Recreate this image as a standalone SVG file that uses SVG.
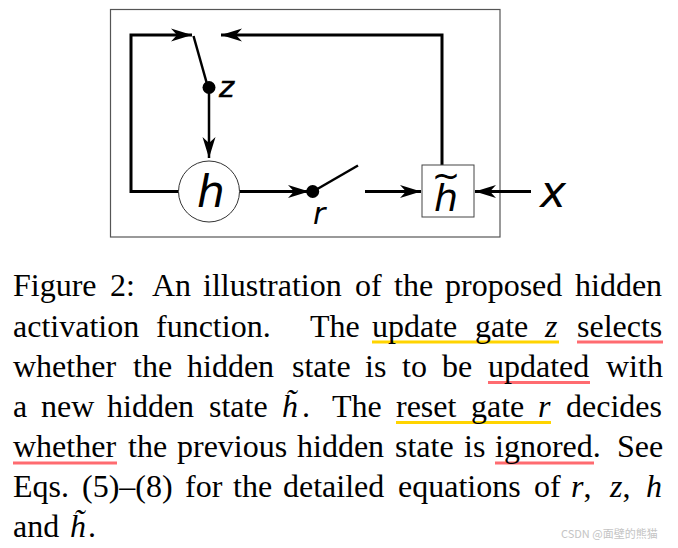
<svg xmlns="http://www.w3.org/2000/svg" width="678" height="548" viewBox="0 0 678 548">
<style>
.c{font-family:"Liberation Serif","Times New Roman",serif;font-size:32px;fill:#000}
.i{font-style:italic}
.d{font-family:"DejaVu Sans",sans-serif;font-style:italic;fill:#000}
.w{fill:none;stroke:#000;stroke-width:3}
.t{stroke-width:2.5}
.y{fill:#ffd400}
.r{fill:#ff6b70}
</style>
<defs>
<marker id="a" markerUnits="userSpaceOnUse" markerWidth="24" markerHeight="24" refX="22" refY="12" orient="auto">
<path d="M1 5.500 L22 12 L1 18.500 L7 12 Z" fill="#000"/>
</marker>
</defs>
<rect width="678" height="548" fill="#fff"/>
<rect id="frame" x="110.500" y="9.500" width="389.500" height="227.500" fill="#fff" stroke="#555" stroke-width="1.200"/>
<g id="connectors">
<path class="w" d="M178.500 191.500H131V35H192" marker-end="url(#a)"/>
<path class="w" d="M442 165V35H221" marker-end="url(#a)"/>
<path class="w t" d="M193.500 36L207 84"/>
<path class="w t" d="M209 88V158" marker-end="url(#a)"/>
<path class="w" d="M239.500 191.500H309" marker-end="url(#a)"/>
<path class="w t" d="M313 191.500L358 165.500"/>
<path class="w" d="M365 191.500H421" marker-end="url(#a)"/>
<path class="w" d="M531 191.500H475" marker-end="url(#a)"/>
</g>
<g id="node-h"><circle cx="209" cy="191.500" r="30.500" fill="#fff" stroke="#333" stroke-width="1"/><text class="d" x="211" y="207" font-size="44" text-anchor="middle">h</text></g>
<g id="node-z"><circle cx="209" cy="87.500" r="6.500"/><text class="d" x="219" y="97" font-size="29" stroke="#000" stroke-width=".5">z</text></g>
<g id="node-r"><circle cx="312.700" cy="191.500" r="6.500"/><text class="d" x="313" y="224" font-size="30">r</text></g>
<g id="node-htilde"><rect x="422" y="165" width="52" height="52" fill="#fff" stroke="#444" stroke-width="1"/><text class="d" x="446" y="211" font-size="38" text-anchor="middle">h</text><text class="d" x="446" y="187" font-size="34" text-anchor="middle" style="font-style:normal">~</text></g>
<text id="node-x" class="d" x="553" y="207" font-size="44" text-anchor="middle">x</text>
<g id="underlines">
<rect class="y" x="372" y="340.500" width="187" height="3"/>
<rect class="r" x="577" y="340.500" width="86" height="3"/>
<rect class="r" x="488" y="381" width="102" height="3"/>
<rect class="y" x="396" y="421" width="155" height="3"/>
<rect class="r" x="13" y="461.500" width="104" height="3"/>
<rect class="r" x="495" y="461.500" width="99" height="3"/>
</g>
<g id="caption" class="c">
<text x="13" y="296">Figure</text><text x="110" y="296">2:</text><text x="152" y="296">An</text><text x="203" y="296">illustration</text><text x="355" y="296">of</text><text x="394" y="296">the</text><text x="445" y="296">proposed</text><text x="575" y="296">hidden</text>
<text x="13" y="337">activation</text><text x="156" y="337">function.</text><text x="310" y="337">The</text><text x="372" y="337">update</text><text x="475" y="337">gate</text><text class="i" x="545" y="337">z</text><text x="577" y="337">selects</text>
<text x="13" y="377">whether</text><text x="133" y="377">the</text><text x="187" y="377">hidden</text><text x="292" y="377">state</text><text x="365" y="377">is</text><text x="402" y="377">to</text><text x="442" y="377">be</text><text x="488" y="377">updated</text><text x="606" y="377">with</text>
<text x="13" y="417">a</text><text x="41" y="417">new</text><text x="107" y="417">hidden</text><text x="209" y="417">state</text><text class="i" x="282" y="417">h̃</text><text x="302" y="417">.</text><text x="332" y="417">The</text><text x="396" y="417">reset</text><text x="471" y="417">gate</text><text class="i" x="538" y="417">r</text><text x="566" y="417">decides</text>
<text x="13" y="457">whether</text><text x="128" y="457">the</text><text x="177" y="457">previous</text><text x="297" y="457">hidden</text><text x="395" y="457">state</text><text x="464" y="457">is</text><text x="495" y="457">ignored.</text><text x="617" y="457">See</text>
<text x="13" y="497">Eqs.</text><text x="82" y="497">(5)–(8)</text><text x="185" y="497">for</text><text x="233" y="497">the</text><text x="283" y="497">detailed</text><text x="398" y="497">equations</text><text x="534" y="497">of</text><text x="571" y="497"><tspan class="i">r</tspan>,</text><text x="610" y="497"><tspan class="i">z</tspan>,</text><text class="i" x="646" y="497">h</text>
<text x="13" y="537">and</text><text class="i" x="70" y="537">h̃</text><text x="88" y="537">.</text>
</g>
<text id="watermark" x="561" y="538" font-family="'Noto Sans CJK SC','Noto Sans',sans-serif" font-size="11" fill="#c4c4c4">CSDN @面壁的熊猫</text>
</svg>
